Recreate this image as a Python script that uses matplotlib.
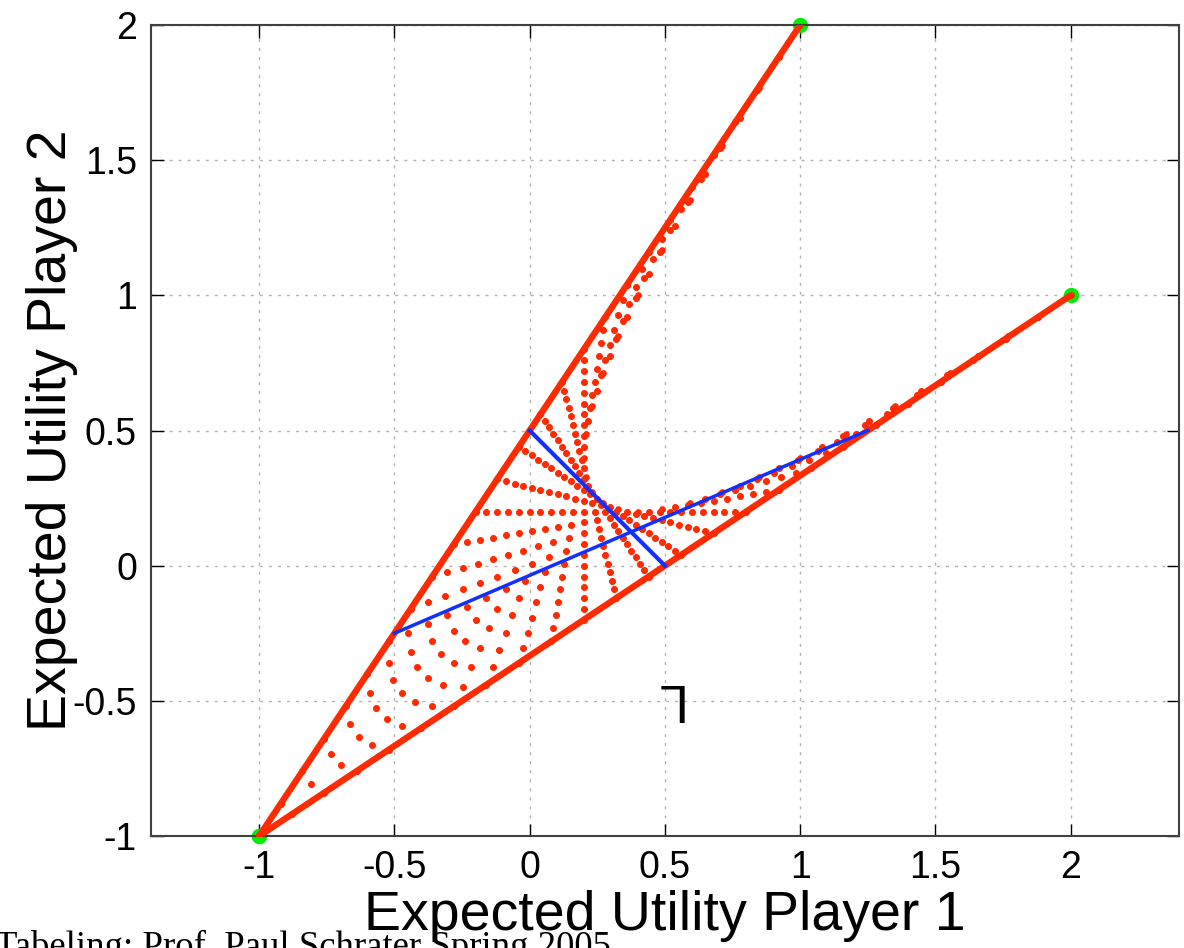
import matplotlib
matplotlib.use('Agg')
import matplotlib.pyplot as plt
import numpy as np

# 2x2 game: rows = player 1 (T, B), columns = player 2 (L, R)
payoff_p1 = [[2, -1], [-1, 1]]
payoff_p2 = [[1, -1], [-1, 2]]

# mixing probabilities sampled for the dot cloud (prob of T / prob of L)
probs = [0.00, 0.04, 0.08, 0.12, 0.16, 0.20, 0.24, 0.28, 0.32, 0.36, 0.40, 0.44, 0.48,
         0.52, 0.56, 0.60, 0.64, 0.68, 0.72, 0.76, 0.80, 0.84, 0.88, 0.92, 0.96, 1.00]

# highlighted mixed strategies (blue lines)
blue_p = 0.5
blue_q = 0.75

xticks = [-1, -0.5, 0, 0.5, 1, 1.5, 2]
yticks = [-1, -0.5, 0, 0.5, 1, 1.5, 2]

red = '#ff2a00'
blue = '#1030ff'
green = '#00ee00'


def utility(A, p, q):
    A = np.asarray(A, dtype=float)
    return (p * q * A[0, 0] + p * (1 - q) * A[0, 1]
            + (1 - p) * q * A[1, 0] + (1 - p) * (1 - q) * A[1, 1])


plt.rcParams['font.family'] = ['Liberation Sans', 'DejaVu Sans']

fig = plt.figure(figsize=(11.84, 9.48), dpi=100)
ax = fig.add_axes([0.1275, 0.1181, 0.8682, 0.8555])

P, Q = np.meshgrid(probs, probs)
u1 = utility(payoff_p1, P, Q)
u2 = utility(payoff_p2, P, Q)

# pure outcomes
pure = np.array([[0, 0], [0, 1], [1, 0], [1, 1]], dtype=float)
gx = [utility(payoff_p1, a, b) for a, b in pure]
gy = [utility(payoff_p2, a, b) for a, b in pure]
ax.plot(gx, gy, 'o', color=green, ms=10, zorder=2, clip_on=False)

# dot cloud
ax.plot(u1.ravel(), u2.ravel(), 'o', color=red, ms=4.8, mec='none', zorder=3)

# pure-strategy edges (player 1 plays B or T, player 2 mixes)
for p in (0, 1):
    ax.plot([utility(payoff_p1, p, 0), utility(payoff_p1, p, 1)],
            [utility(payoff_p2, p, 0), utility(payoff_p2, p, 1)],
            color=red, lw=4.6, solid_capstyle='round', zorder=4)

# highlighted mixed strategies
ax.plot([utility(payoff_p1, blue_p, 0), utility(payoff_p1, blue_p, 1)],
        [utility(payoff_p2, blue_p, 0), utility(payoff_p2, blue_p, 1)],
        color=blue, lw=3, zorder=5)
ax.plot([utility(payoff_p1, 0, blue_q), utility(payoff_p1, 1, blue_q)],
        [utility(payoff_p2, 0, blue_q), utility(payoff_p2, 1, blue_q)],
        color=blue, lw=2.5, zorder=5)

ax.text(0.505, -0.49, 'L', rotation=180, fontsize=38, ha='center', va='center')

ax.set_xlim(-1.4, 2.4)
ax.set_ylim(-1, 2)
ax.set_xticks(xticks)
ax.set_yticks(yticks)
ax.set_xticklabels(['%g' % t for t in xticks])
ax.set_yticklabels(['%g' % t for t in yticks])
ax.grid(True, color='0.7', linestyle=(0, (2.2, 4.3)), lw=1)
ax.set_axisbelow(True)
ax.tick_params(direction='in', length=9, width=1, top=True, right=True,
               labelsize=27, pad=10)
for s in ax.spines.values():
    s.set_linewidth(1.5)
    s.set_color('0.25')

ax.set_xlabel('Expected Utility Player 1', fontsize=40)
ax.xaxis.set_label_coords(0.5, -0.066)
ax.set_ylabel('Expected Utility Player 2', fontsize=40)
ax.yaxis.set_label_coords(-0.071, 0.5)

fig.text(-0.004, -0.01, 'Tabeling: Prof. Paul Schrater Spring 2005',
         family=['Liberation Serif', 'DejaVu Serif'], fontsize=26.5,
         ha='left', va='baseline')

fig.savefig('out.png', dpi=100)
